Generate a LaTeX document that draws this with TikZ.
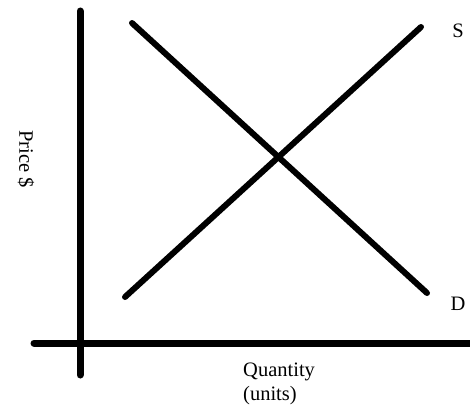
\documentclass[tikz,border=0pt]{standalone}
\usepackage{fontspec}
\setmainfont{Liberation Serif}
\usetikzlibrary{positioning}

\begin{document}
\begin{tikzpicture}[
  x=1pt, y=-1pt,
  axis/.style={line width=7pt, line cap=round},
  curve/.style={line width=6pt, line cap=round},
  lab/.style={font=\fontsize{20.5}{24}\selectfont, inner sep=1pt}
]
\useasboundingbox (0,0) rectangle (470,412);

% axes
\coordinate (yTop) at (80,11);
\coordinate (yBot) at (80,375);
\coordinate (xL) at (34,343);
\coordinate (xR) at (470,343);
\draw[axis] (yTop) -- (yBot);
\draw[axis] (xL) -- (xR);

% supply and demand
\coordinate (S0) at (125,297);
\coordinate (S1) at (421,27);
\coordinate (D0) at (132,23);
\coordinate (D1) at (427,293);
\draw[curve] (S0) -- (S1);
\draw[curve] (D0) -- (D1);

\node[lab] (Slab) at (458,31) {S};
\node[lab] (Dlab) at (458,304) {D};
\node[lab, rotate=-90] (Price) at (26,159) {Price \$};
\node[lab, align=left, anchor=north west] (Qty) at (242,362) {Quantity\\(units)};
\end{tikzpicture}
\end{document}
